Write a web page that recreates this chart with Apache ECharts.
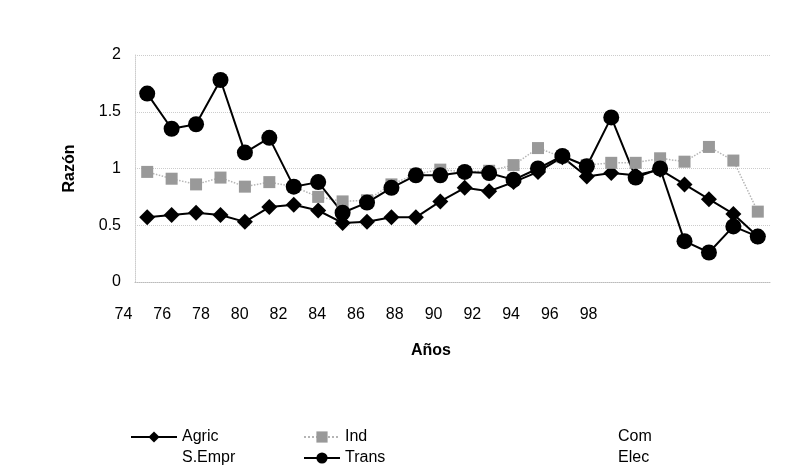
<!DOCTYPE html>
<html><head><meta charset="utf-8">
<script src="https://cdn.jsdelivr.net/npm/echarts@6/dist/echarts.min.js"></script>
<style>html,body{margin:0;padding:0;background:#fff}#c{width:788px;height:466px}</style>
</head><body><div id="c"></div>
<script>
const categories = ['74','75','76','77','78','79','80','81','82','83','84','85','86','87','88','89','90','91','92','93','94','95','96','97','98','99'];
const xTickLabels = ['74','76','78','80','82','84','86','88','90','92','94','96','98'];
const yTickLabels = ['0','0.5','1','1.5','2'];
const agric = [0.57,0.59,0.61,0.59,0.53,0.66,0.68,0.63,0.52,0.53,0.57,0.57,0.71,0.83,0.80,0.88,0.97,1.10,0.93,0.96,0.94,0.99,0.86,0.73,0.60,0.40];
const ind   = [0.97,0.91,0.86,0.92,0.84,0.88,0.84,0.75,0.71,0.72,0.86,0.95,0.99,0.97,0.98,1.03,1.18,1.10,1.03,1.05,1.05,1.09,1.06,1.19,1.07,0.62];
const com   = [];
const sEmpr = [];
const trans = [1.66,1.35,1.39,1.78,1.14,1.27,0.84,0.88,0.61,0.70,0.83,0.94,0.94,0.97,0.96,0.90,1.00,1.11,1.02,1.45,0.92,1.00,0.36,0.26,0.49,0.40];
const elec  = [];

const FONT = 'Liberation Sans, Arial, sans-serif';
const chart = echarts.init(document.getElementById('c'), null, {renderer:'canvas'});

function leg(name, left, top, w) {
  return {data:[name], left:left, top:top, itemWidth:w, itemHeight:14, itemGap:0,
    textStyle:{fontFamily:FONT, fontSize:16, color:'#000'}, selectedMode:false};
}

chart.setOption({
  animation:false,
  backgroundColor:'#fff',
  grid:[
    {left:135, right:18, top:55, bottom:184},
    {left:104, width:504, top:55, bottom:184}
  ],
  xAxis:[
    {type:'category', gridIndex:0, data:categories, boundaryGap:true,
     axisLabel:{show:false}, axisTick:{show:false},
     axisLine:{lineStyle:{color:'#bbb', type:'dotted', width:1}}},
    {type:'category', gridIndex:1, data:xTickLabels, boundaryGap:true,
     axisLine:{show:false}, axisTick:{show:false},
     axisLabel:{margin:25, fontFamily:FONT, fontSize:16, color:'#000'}}
  ],
  yAxis:[
    {type:'value', gridIndex:0, min:0, max:2, interval:0.5,
     name:'Razón', nameLocation:'middle', nameGap:57, nameRotate:90,
     nameTextStyle:{fontFamily:FONT, fontSize:16, fontWeight:'bold', color:'#000'},
     axisLabel:{margin:14, fontFamily:FONT, fontSize:16, color:'#000',
       formatter:function(v){return yTickLabels[Math.round(v*2)] || '';}},
     axisLine:{show:true, lineStyle:{color:'#ccc', type:'dotted'}}, axisTick:{show:false},
     splitLine:{lineStyle:{color:'#ccc', type:'dotted', width:1}}},
    {type:'value', gridIndex:1, min:0, max:2, show:false}
  ],
  graphic:[{type:'text', left:411, top:343, style:{text:'Años', font:'bold 16px '+FONT, fill:'#000'}}],
  legend:[
    leg('Agric',125,424,46), leg('Ind',298,424,36), leg('Com',565,424,42),
    leg('S.Empr',125,445,46), leg('Trans',298,445,36), leg('Elec',565,445,42)
  ],
  series:[
    {name:'Agric', type:'line', data:agric, symbol:'diamond', symbolSize:16,
     itemStyle:{color:'#000'}, lineStyle:{color:'#000', width:2}},
    {name:'Ind', type:'line', data:ind, symbol:'rect', symbolSize:12,
     itemStyle:{color:'#999'}, lineStyle:{color:'#b5b5b5', width:1.5, type:'dotted'}},
    {name:'Com', type:'line', data:com, symbol:'none', itemStyle:{color:'#fff'}, lineStyle:{color:'#fff'}},
    {name:'S.Empr', type:'line', data:sEmpr, symbol:'none', itemStyle:{color:'#fff'}, lineStyle:{color:'#fff'}},
    {name:'Trans', type:'line', data:trans, symbol:'circle', symbolSize:16,
     itemStyle:{color:'#000'}, lineStyle:{color:'#000', width:2}, z:3},
    {name:'Elec', type:'line', data:elec, symbol:'none', itemStyle:{color:'#fff'}, lineStyle:{color:'#fff'}}
  ]
});
</script></body></html>
